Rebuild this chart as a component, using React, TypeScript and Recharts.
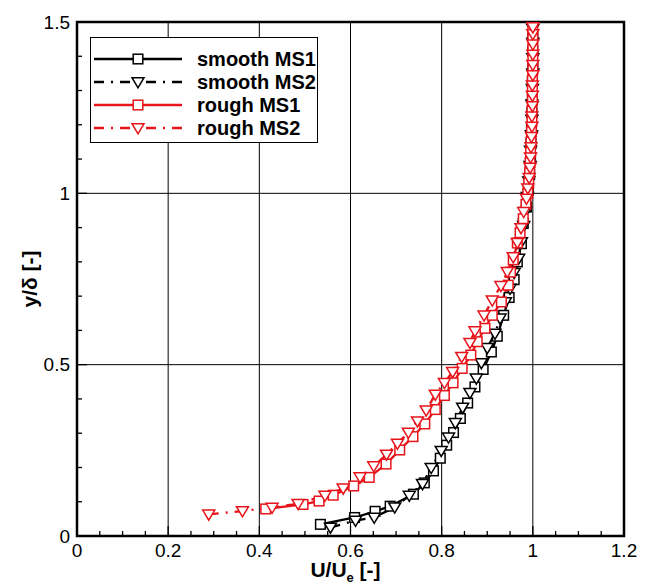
import { LineChart, Line, XAxis, YAxis, CartesianGrid, ReferenceArea, Legend } from "recharts";

const FONT = '"Liberation Sans", Arial, Helvetica, sans-serif';
const RED = "#e8141b";
const DASH_DOT = "10 7 2 7";

// axis ticks (minor + major) and the labelled majors
const uTicks = [0, 0.05, 0.1, 0.15, 0.2, 0.25, 0.3, 0.35, 0.4, 0.45, 0.5, 0.55, 0.6, 0.65, 0.7, 0.75, 0.8, 0.85, 0.9, 0.95, 1, 1.05, 1.1, 1.15, 1.2];
const uMajor = [0, 0.2, 0.4, 0.6, 0.8, 1, 1.2];
const yTicks = [0, 0.1, 0.2, 0.3, 0.4, 0.5, 0.6, 0.7, 0.8, 0.9, 1, 1.1, 1.2, 1.3, 1.4, 1.5];
const yMajor = [0, 0.5, 1, 1.5];

// [U/Ue, y/delta]
const smoothMs1 = [
    [0.534, 0.034], [0.609, 0.054], [0.654, 0.072], [0.687, 0.087], [0.738, 0.122], [0.762, 0.155],
    [0.782, 0.19], [0.797, 0.227], [0.811, 0.265], [0.826, 0.302], [0.841, 0.343], [0.857, 0.388],
    [0.873, 0.435], [0.891, 0.486], [0.909, 0.537], [0.922, 0.583], [0.936, 0.644], [0.948, 0.696],
    [0.959, 0.748], [0.966, 0.8], [0.975, 0.853], [0.979, 0.912], [0.986, 0.96], [0.99, 1.01],
    [0.993, 1.055], [0.995, 1.1], [0.996, 1.145], [0.997, 1.19], [0.998, 1.235], [0.999, 1.28],
    [0.999, 1.325], [1.0, 1.37], [1.0, 1.415], [1.0, 1.46],
];

const smoothMs2 = [
    [0.556, 0.025], [0.611, 0.045], [0.652, 0.054], [0.697, 0.084], [0.729, 0.118], [0.758, 0.152],
    [0.777, 0.199], [0.799, 0.249], [0.815, 0.288], [0.83, 0.33], [0.846, 0.375], [0.862, 0.418],
    [0.876, 0.46], [0.887, 0.505], [0.9, 0.549], [0.917, 0.591], [0.928, 0.635], [0.94, 0.683],
    [0.95, 0.722], [0.959, 0.768], [0.969, 0.81], [0.975, 0.858], [0.98, 0.905], [0.984, 0.946],
    [0.988, 0.99], [0.991, 1.035], [0.994, 1.08], [0.995, 1.125], [0.997, 1.17], [0.998, 1.215],
    [0.998, 1.26], [0.999, 1.305], [1.0, 1.35], [1.0, 1.395], [1.0, 1.44], [1.0, 1.48],
];

const roughMs1 = [
    [0.414, 0.079], [0.496, 0.092], [0.531, 0.102], [0.562, 0.119], [0.607, 0.146], [0.641, 0.171],
    [0.678, 0.21], [0.708, 0.251], [0.737, 0.29], [0.763, 0.327], [0.786, 0.369], [0.806, 0.41],
    [0.825, 0.447], [0.845, 0.489], [0.864, 0.528], [0.878, 0.567], [0.895, 0.606], [0.911, 0.644],
    [0.931, 0.683], [0.946, 0.732], [0.951, 0.77], [0.957, 0.806], [0.966, 0.855], [0.972, 0.885],
    [0.979, 0.926], [0.985, 0.968], [0.989, 1.0], [0.991, 1.03], [0.993, 1.06], [0.994, 1.09],
    [0.995, 1.12], [0.996, 1.15], [0.997, 1.18], [0.998, 1.21], [0.998, 1.24], [0.999, 1.27],
    [0.999, 1.3], [0.999, 1.33], [1.0, 1.36], [1.0, 1.39], [1.0, 1.42], [1.0, 1.45], [1.0, 1.478],
];

const roughMs2 = [
    [0.289, 0.063], [0.363, 0.073], [0.428, 0.083], [0.485, 0.094], [0.544, 0.118], [0.584, 0.139],
    [0.621, 0.172], [0.651, 0.204], [0.679, 0.238], [0.703, 0.27], [0.727, 0.302], [0.747, 0.335],
    [0.766, 0.367], [0.786, 0.413], [0.806, 0.447], [0.824, 0.479], [0.844, 0.523], [0.862, 0.564],
    [0.873, 0.598], [0.893, 0.644], [0.911, 0.688], [0.93, 0.73], [0.944, 0.771], [0.957, 0.814],
    [0.966, 0.856], [0.974, 0.899], [0.98, 0.946], [0.986, 0.985], [0.989, 1.015], [0.992, 1.045],
    [0.994, 1.075], [0.995, 1.105], [0.996, 1.135], [0.997, 1.165], [0.998, 1.195], [0.998, 1.225],
    [0.999, 1.255], [0.999, 1.285], [0.999, 1.315], [1.0, 1.345], [1.0, 1.375], [1.0, 1.405],
    [1.0, 1.435], [1.0, 1.465], [1.0, 1.485],
];

const toPoints = (rows: number[][]) => rows.map(([u, y]) => ({ u, y }));

const SERIES = [
    { name: "smooth MS1", data: toPoints(smoothMs1), color: "#000", dash: undefined, marker: "square" },
    { name: "smooth MS2", data: toPoints(smoothMs2), color: "#000", dash: DASH_DOT, marker: "triangle" },
    { name: "rough MS1", data: toPoints(roughMs1), color: RED, dash: undefined, marker: "square" },
    { name: "rough MS2", data: toPoints(roughMs2), color: RED, dash: DASH_DOT, marker: "triangle" },
];

function Marker({ cx, cy, color, marker }: any) {
    if (marker === "square") {
        return <rect x={cx - 4.8} y={cy - 4.8} width={9.6} height={9.6} fill="#fff" stroke={color} strokeWidth={1.5} />;
    }
    return (
        <polygon
            points={`${cx - 6},${cy - 4.3} ${cx + 6},${cy - 4.3} ${cx},${cy + 5.8}`}
            fill="#fff"
            stroke={color}
            strokeWidth={1.5}
            strokeLinejoin="miter"
        />
    );
}

const makeDot = (color: string, marker: string) => (props: any) => {
    const { cx, cy, index } = props;
    if (cx == null || cy == null) return <g key={index} />;
    return (
        <g key={index}>
            <Marker cx={cx} cy={cy} color={color} marker={marker} />
        </g>
    );
};

const renderUTick = (props: any) => {
    const { x, y, payload } = props;
    const major = uMajor.includes(payload.value);
    return (
        <g>
            <line x1={x} y1={y} x2={x} y2={y - (major ? 10 : 5)} stroke="#000" strokeWidth={1.3} />
            {major && (
                <text x={x} y={y + 21} textAnchor="middle" fontFamily={FONT} fontSize={19} fill="#000">
                    {payload.value}
                </text>
            )}
        </g>
    );
};

const renderYTick = (props: any) => {
    const { x, y, payload } = props;
    const major = yMajor.includes(payload.value);
    return (
        <g>
            <line x1={x} y1={y} x2={x + (major ? 10 : 5)} y2={y} stroke="#000" strokeWidth={1.3} />
            {major && (
                <text x={x - 7} y={y + 6.5} textAnchor="end" fontFamily={FONT} fontSize={19} fill="#000">
                    {payload.value}
                </text>
            )}
        </g>
    );
};

function ULabel({ viewBox }: any) {
    const cx = viewBox.x + viewBox.width / 2 - 5;
    return (
        <text x={cx} y={viewBox.y + 41} textAnchor="middle" fontFamily={FONT} fontSize={21} fontWeight="bold" fill="#000">
            U/U<tspan fontSize={13} dy={5}>e</tspan>
            <tspan dy={-5}> [-]</tspan>
        </text>
    );
}

function YLabel({ viewBox }: any) {
    const cy = viewBox.y + viewBox.height / 2;
    return (
        <text
            x={37}
            y={cy}
            transform={`rotate(-90 37 ${cy})`}
            textAnchor="middle"
            fontFamily={FONT}
            fontSize={21}
            fontWeight="bold"
            fill="#000"
        >
            y/δ [-]
        </text>
    );
}

function LegendBox() {
    return (
        <div style={{ border: "1.5px solid #000", background: "#fff", width: 226, height: 104 }}>
            <svg width={226} height={104}>
                {SERIES.map((s, i) => {
                    const y = 21 + i * 23;
                    return (
                        <g key={s.name}>
                            <line x1={3} y1={y} x2={91} y2={y} stroke={s.color} strokeWidth={2.3} strokeDasharray={s.dash} />
                            <Marker cx={47} cy={y} color={s.color} marker={s.marker} />
                            <text x={106} y={y + 7} fontFamily={FONT} fontSize={20} fontWeight="bold" fill="#000">
                                {s.name}
                            </text>
                        </g>
                    );
                })}
            </svg>
        </div>
    );
}

export default function App() {
    return (
        <div style={{ position: "absolute", left: 0, top: 0, background: "#fff" }}>
            <LineChart width={648} height={584} margin={{ top: 22, right: 24, bottom: 0, left: 17 }}>
                <CartesianGrid verticalValues={uMajor} horizontalValues={yMajor} stroke="#000" strokeWidth={1} />
                <XAxis
                    dataKey="u"
                    type="number"
                    domain={[0, 1.2]}
                    ticks={uTicks}
                    interval={0}
                    allowDataOverflow
                    tickSize={0}
                    tickMargin={0}
                    axisLine={false}
                    tickLine={false}
                    tick={renderUTick}
                    height={48}
                    label={<ULabel />}
                />
                <YAxis
                    type="number"
                    domain={[0, 1.5]}
                    ticks={yTicks}
                    interval={0}
                    allowDataOverflow
                    tickSize={0}
                    tickMargin={0}
                    axisLine={false}
                    tickLine={false}
                    tick={renderYTick}
                    width={60}
                    label={<YLabel />}
                />
                <ReferenceArea x1={0} x2={1.2} y1={0} y2={1.5} fill="none" stroke="#000" strokeWidth={2.5} />
                {SERIES.map((s) => (
                    <Line
                        key={s.name}
                        name={s.name}
                        data={s.data}
                        dataKey="y"
                        stroke={s.color}
                        strokeWidth={2.3}
                        strokeDasharray={s.dash}
                        dot={makeDot(s.color, s.marker)}
                        activeDot={false}
                        isAnimationActive={false}
                    />
                ))}
                <Legend
                    layout="horizontal"
                    verticalAlign="middle"
                    align="center"
                    wrapperStyle={{ left: 90, top: 37, width: 228, height: 107 }}
                    content={() => <LegendBox />}
                />
            </LineChart>
        </div>
    );
}
